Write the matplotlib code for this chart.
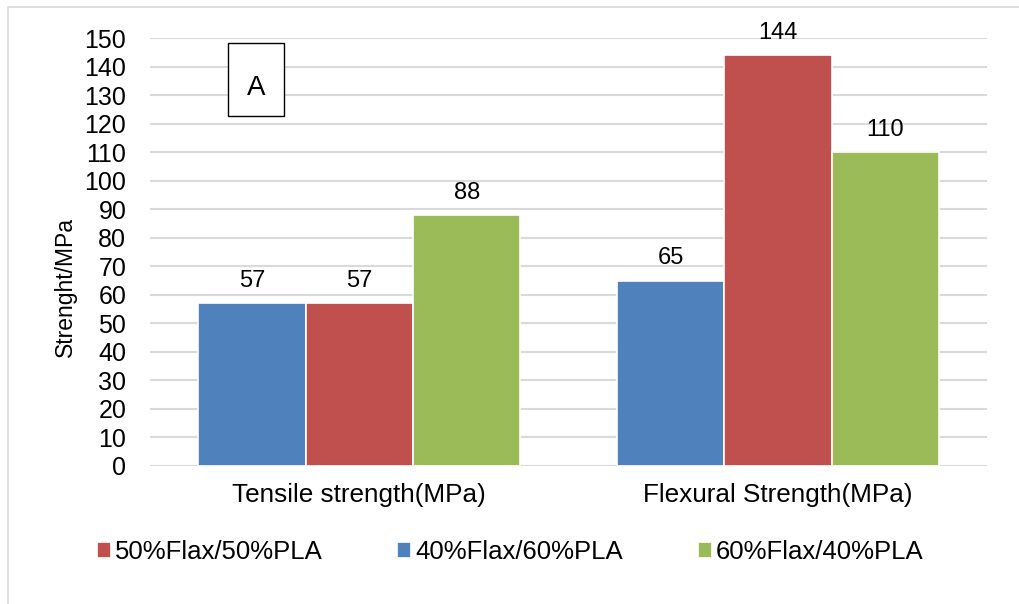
import matplotlib
matplotlib.use('Agg')
from matplotlib import pyplot as plt
from matplotlib.patches import Rectangle
import numpy as np

plt.rcParams['font.family'] = ['Liberation Sans', 'DejaVu Sans']

# Data
categories = ['Tensile strength(MPa)', 'Flexural Strength(MPa)']
series_names = ['40%Flax/60%PLA', '50%Flax/50%PLA', '60%Flax/40%PLA']
flax40 = [57, 65]
flax50 = [57, 144]
flax60 = [88, 110]
colors = ['#4F81BD', '#C0504D', '#9BBB59']
y_ticks = list(range(0, 151, 10))

fig = plt.figure(figsize=(10.2, 6.04), dpi=100)
ax = fig.add_axes([0.147, 0.2285, 0.821, 0.7085])

# outer chart frame
fig.patches.append(Rectangle((8 / 1020, -0.1), 1.2, 1 - 7 / 604 + 0.1, transform=fig.transFigure,
                             fill=False, edgecolor='#D9D9D9', linewidth=1.2, zorder=0))

x = np.arange(len(categories))
w = 0.2565
handles = {}
for i, (name, vals) in enumerate(zip(series_names, [flax40, flax50, flax60])):
    bars = ax.bar(x + (i - 1) * w, vals, w, color=colors[i], edgecolor='white',
                  linewidth=1.2, label=name, zorder=3)
    handles[name] = bars
    for b, v in zip(bars, vals):
        ax.annotate(str(v), (b.get_x() + b.get_width() / 2, v), xytext=(0, 8),
                    textcoords='offset points', ha='center', va='bottom', fontsize=17)

ax.set_xlim(-0.5, 1.5)
ax.set_ylim(0, 150)
ax.set_yticks(y_ticks)
ax.set_xticks(x)
ax.set_xticklabels(categories, fontsize=18.8)
ax.tick_params(axis='y', labelsize=18, length=0, pad=17)
ax.tick_params(axis='x', length=0, pad=12)
ax.yaxis.grid(True, color='#D9D9D9', linewidth=1.5, zorder=0)
ax.set_axisbelow(True)
for s in ax.spines.values():
    s.set_visible(False)

fig.text(65 / 1020, 1 - 287 / 604, 'Strenght/MPa', rotation=90, ha='center', va='center', fontsize=16.5)

# "A" box
fig.patches.append(Rectangle((228 / 1020, 1 - 116 / 604), 56 / 1020, 73 / 604,
                             transform=fig.transFigure, fill=True, facecolor='white',
                             edgecolor='black', linewidth=1, zorder=5))
fig.text(256 / 1020, 1 - 88 / 604, 'A', ha='center', va='center', fontsize=20, zorder=6)

order = ['50%Flax/50%PLA', '40%Flax/60%PLA', '60%Flax/40%PLA']
fig.legend([handles[n] for n in order], order, loc='center',
           bbox_to_anchor=(510 / 1020, 1 - 552 / 604), ncol=3, frameon=False,
           fontsize=18.5, handlelength=0.55, handleheight=0.55, handletextpad=0.16,
           columnspacing=2.9)

fig.savefig('out.png', dpi=100)
